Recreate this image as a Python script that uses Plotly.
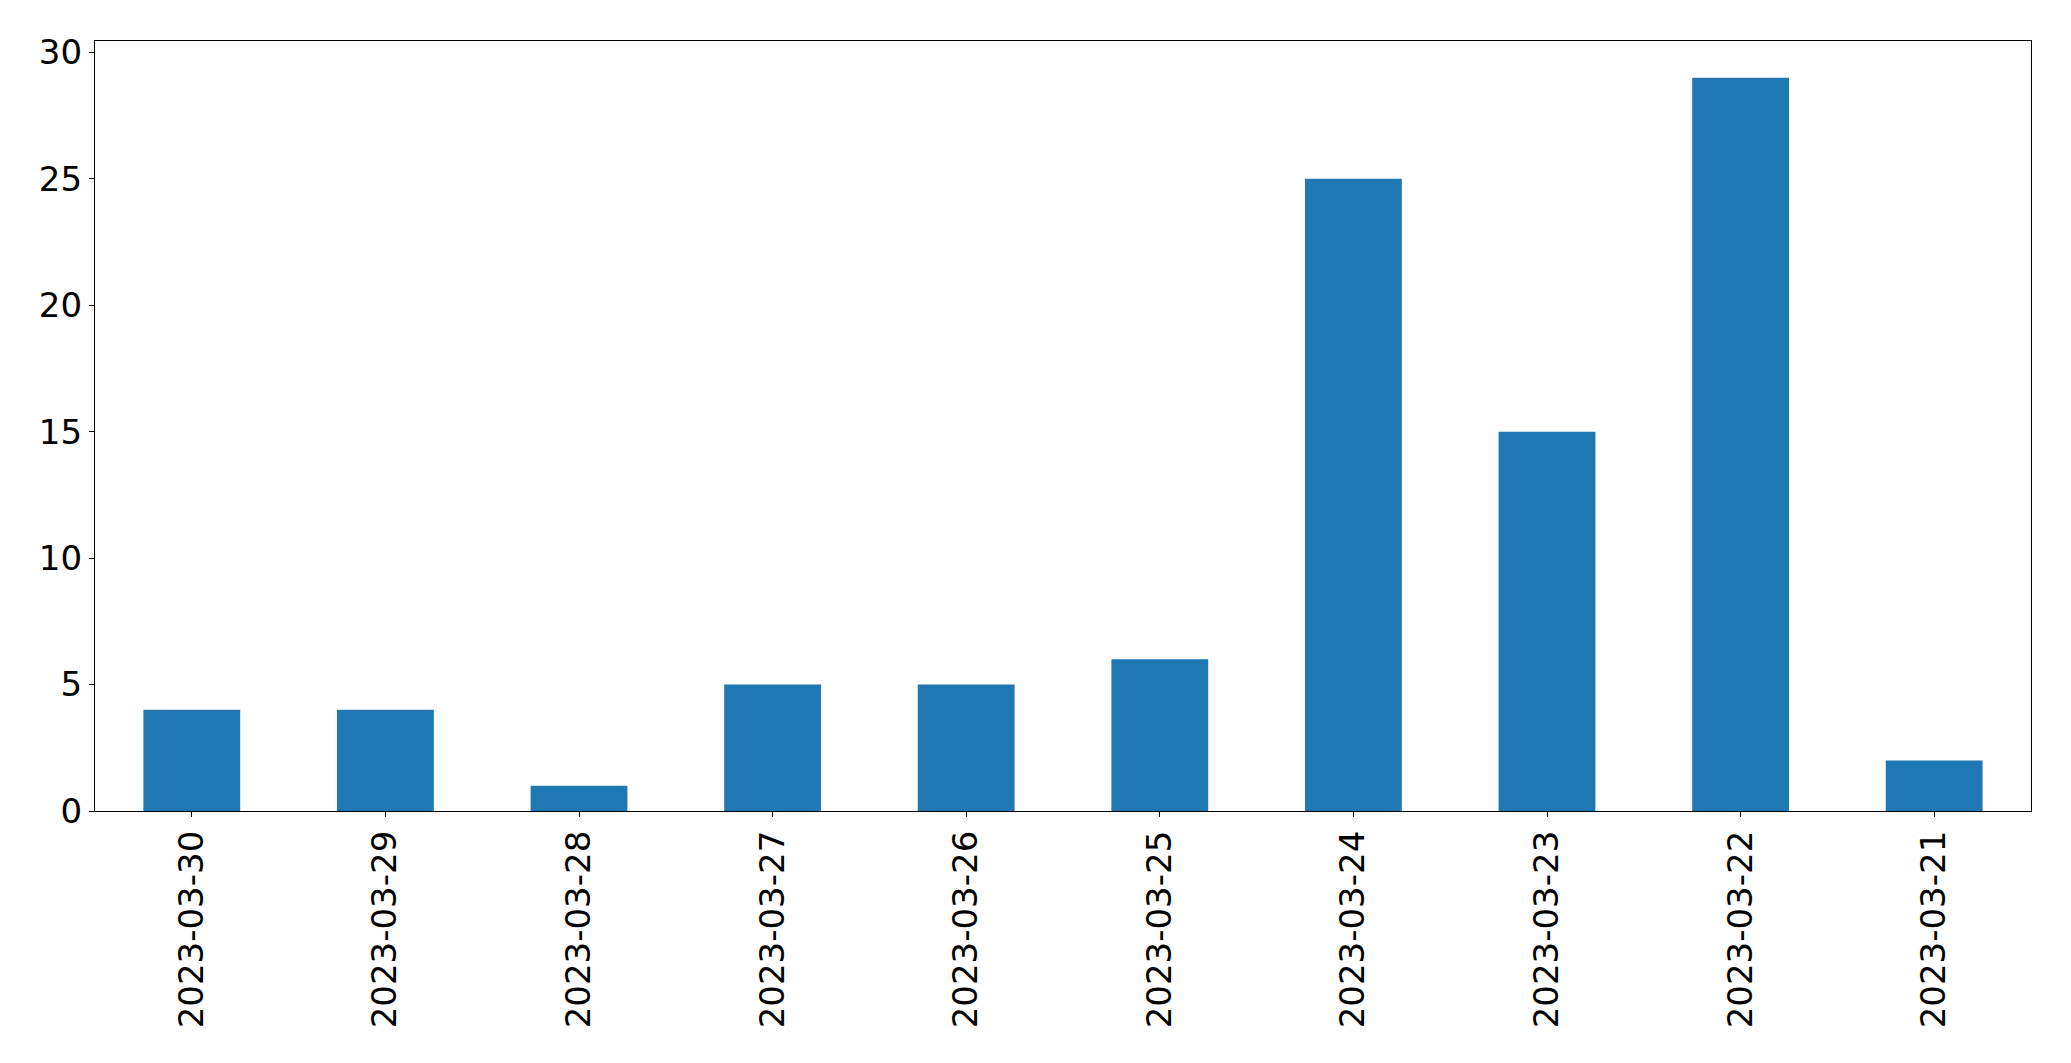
import plotly.graph_objects as go

dates = ["2023-03-30", "2023-03-29", "2023-03-28", "2023-03-27", "2023-03-26",
         "2023-03-25", "2023-03-24", "2023-03-23", "2023-03-22", "2023-03-21"]
counts = [4, 4, 1, 5, 5, 6, 25, 15, 29, 2]
y_ticks = [0, 5, 10, 15, 20, 25, 30]

fig = go.Figure(go.Bar(x=dates, y=counts, marker=dict(color="#1f77b4", line=dict(width=0))))

axis_common = dict(
    showline=True, linecolor="black", linewidth=1.3, mirror=True,
    ticks="outside", ticklen=5, tickwidth=1.3, tickcolor="black",
    showgrid=False, zeroline=False,
    tickfont=dict(family="DejaVu Sans", size=34, color="black"),
)

fig.update_layout(
    width=2071, height=1063,
    margin=dict(l=95, r=40, t=41, b=252),
    paper_bgcolor="white", plot_bgcolor="white",
    bargap=0.5, showlegend=False,
    xaxis=dict(type="category", range=[-0.5, 9.5], tickangle=-90, **axis_common),
    yaxis=dict(range=[0, 30.45], tickvals=y_ticks, **axis_common),
)

fig.write_html("out.html")
